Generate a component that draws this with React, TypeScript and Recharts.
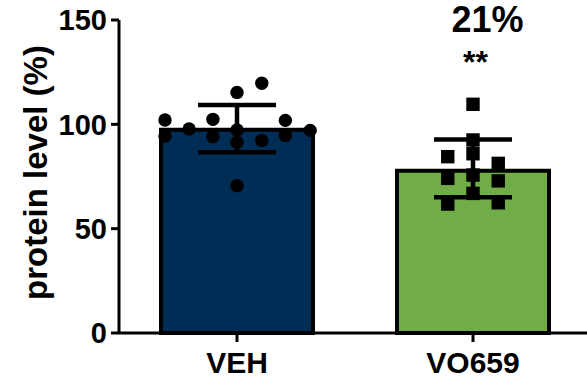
import React from 'react';
import { ComposedChart, Bar, XAxis, YAxis, ErrorBar, Scatter, Cell, ReferenceDot, Label } from 'recharts';

const categories = ['VEH', 'VO659'];
const means = [97.4, 77.7];
const errLow = [10.8, 12.6];
const errHigh = [11.9, 15.0];
const barColors = ['#002D56', '#70AD47'];
const yTicks = [0, 50, 100, 150];

const vehX = [0.195, 0.195, 0.297, 0.398, 0.398, 0.5, 0.5, 0.5, 0.5, 0.605, 0.605, 0.705, 0.705, 0.81];
const vehY = [102.1, 94.4, 97.8, 102.4, 94.1, 115.3, 97.3, 91.4, 70.6, 119.7, 92.2, 101.9, 94.7, 97.1];

const voX = [1.5, 1.5, 1.5, 1.393, 1.393, 1.393, 1.607, 1.607, 1.607, 1.5, 1.5];
const voY = [109.6, 92.5, 85.9, 84.5, 74.1, 61.8, 81.3, 72.9, 62.4, 75.7, 66.9];

const annotationTop = '21%';
const annotationSig = '**';

const barData = categories.map((name, i) => ({ name, mean: means[i], err: [errLow[i], errHigh[i]] }));
const vehPts = vehX.map((x, i) => ({ x, y: vehY[i] }));
const voPts = voX.map((x, i) => ({ x, y: voY[i] }));

const FONT = '"Liberation Sans", Arial, Helvetica, sans-serif';

const CircleDot = (p: any) => <circle cx={p.cx} cy={p.cy} r={6.7} fill="#000" />;
const SquareDot = (p: any) => <rect x={p.cx - 6.7} y={p.cy - 6.7} width={13.4} height={13.4} fill="#000" />;

const renderYLabel = (props: any) => {
  const vb = props.viewBox || { x: 0, y: 20, width: 119, height: 313 };
  const x = vb.x + 47;
  const y = vb.y + vb.height / 2 - 4;
  return (
    <text x={x} y={y} transform={`rotate(-90, ${x}, ${y})`} textAnchor="middle" fontSize={33} fontWeight="bold" fontFamily={FONT} fill="#000">
      protein level (%)
    </text>
  );
};

const renderAnno = (props: any) => {
  const vb = props.viewBox || { x: 473, y: 20 };
  return (
    <g>
      <text x={vb.x + 14.5} y={vb.y + 12} textAnchor="middle" fontSize={36} fontWeight="bold" fontFamily={FONT} fill="#000">
        {annotationTop}
      </text>
      <text x={vb.x + 2.5} y={vb.y + 53} textAnchor="middle" fontSize={32} fontWeight="bold" fontFamily={FONT} fill="#000">
        {annotationSig}
      </text>
    </g>
  );
};

export default function App() {
  return (
    <div style={{ position: 'absolute', left: 0, top: 0, width: 587, height: 379, overflow: 'hidden', background: '#fff', fontFamily: FONT }}>
      <ComposedChart width={600} height={379} data={barData} margin={{ top: 20, right: 9, bottom: 0, left: 0 }}>
        <XAxis
          dataKey="name"
          type="category"
          height={46}
          tickSize={9}
          tickMargin={10}
          axisLine={{ stroke: '#000', strokeWidth: 3 }}
          tickLine={{ stroke: '#000', strokeWidth: 3 }}
          tick={{ fontSize: 30, fontWeight: 'bold', fill: '#000', fontFamily: FONT }}
        />
        <XAxis xAxisId="pts" type="number" dataKey="x" domain={[0, 2]} allowDataOverflow hide />
        <YAxis
          type="number"
          domain={[0, 150]}
          ticks={yTicks}
          width={119}
          tickSize={8}
          tickMargin={4}
          axisLine={{ stroke: '#000', strokeWidth: 3 }}
          tickLine={{ stroke: '#000', strokeWidth: 3 }}
          tick={{ fontSize: 29, fontWeight: 'bold', fill: '#000', fontFamily: FONT }}
        >
          <Label content={renderYLabel} />
        </YAxis>
        <Bar dataKey="mean" barSize={152} stroke="#000" strokeWidth={4} isAnimationActive={false}>
          {barData.map((d, i) => (
            <Cell key={d.name} fill={barColors[i]} />
          ))}
          <ErrorBar dataKey="err" width={39} stroke="#000" strokeWidth={4.5} isAnimationActive={false} />
        </Bar>
        <Scatter xAxisId="pts" data={vehPts} dataKey="y" shape={CircleDot} isAnimationActive={false} />
        <Scatter xAxisId="pts" data={voPts} dataKey="y" shape={SquareDot} isAnimationActive={false} />
        <ReferenceDot x="VO659" y={150} r={0} fill="none" stroke="none" label={<Label content={renderAnno} />} />
      </ComposedChart>
    </div>
  );
}
